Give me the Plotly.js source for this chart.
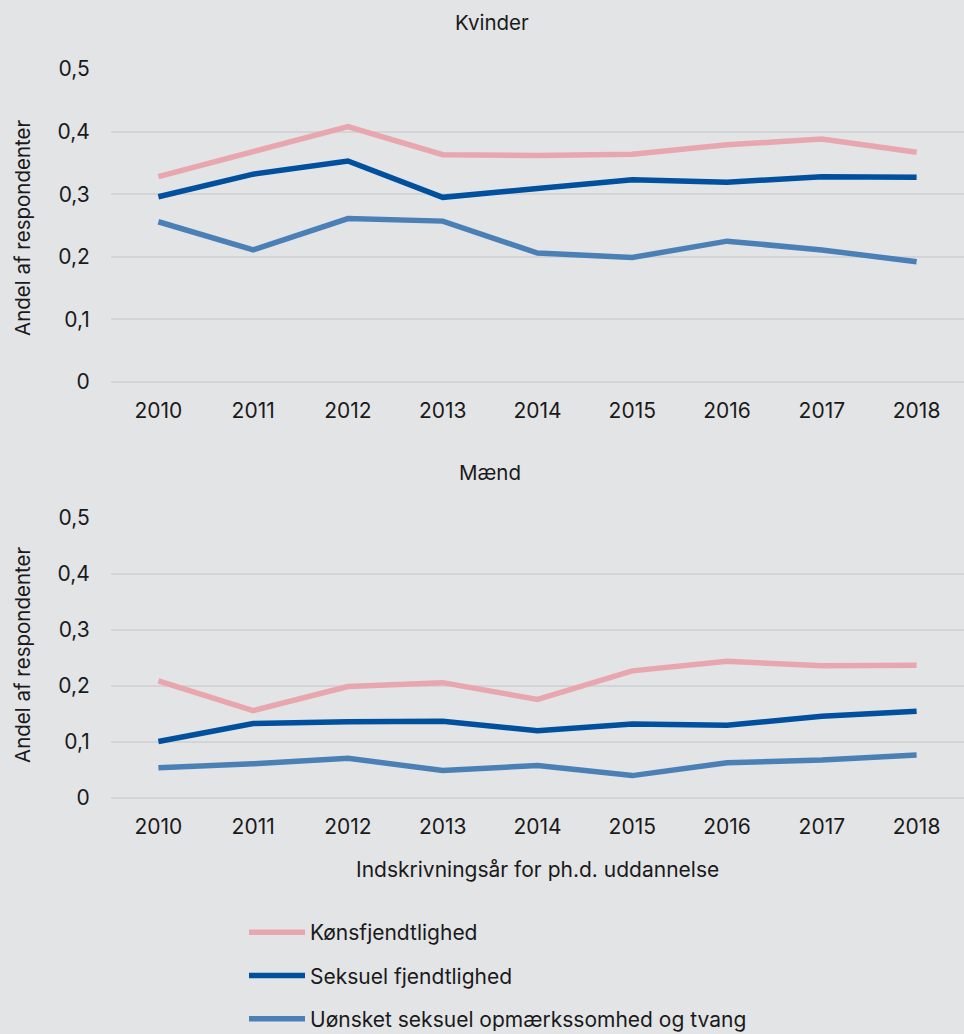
<!DOCTYPE html>
<html>
<head>
<meta charset="utf-8">
<script src="https://cdn.plot.ly/plotly-3.0.1.min.js"></script>
<style>
html,body{margin:0;padding:0;background:#e3e4e6;}
#chart{width:964px;height:1034px;}
</style>
</head>
<body>
<div id="chart"></div>
<script>
const years = ['2010','2011','2012','2013','2014','2015','2016','2017','2018'];
const seriesNames = ['Kønsfjendtlighed','Seksuel fjendtlighed','Uønsket seksuel opmærkssomhed og tvang'];
const kvinderKons = [0.328,0.368,0.408,0.363,0.362,0.364,0.379,0.388,0.367];
const kvinderSeks = [0.296,0.332,0.353,0.295,0.309,0.323,0.319,0.328,0.327];
const kvinderUon  = [0.256,0.211,0.261,0.257,0.206,0.199,0.225,0.211,0.192];
const maendKons = [0.209,0.156,0.199,0.206,0.176,0.227,0.244,0.236,0.237];
const maendSeks = [0.101,0.133,0.136,0.137,0.120,0.132,0.130,0.146,0.155];
const maendUon  = [0.054,0.061,0.071,0.049,0.058,0.040,0.063,0.068,0.077];
const yTickVals = [0,0.1,0.2,0.3,0.4,0.5];
const yTickText = ['0','0,1','0,2','0,3','0,4','0,5'];

const colors = ['#e8a7ae','#00509d','#4a80b6'];
const F = 'Inter, "Noto Sans", sans-serif';
const TC = '#1a1a1a';

function tr(y, i, xa, ya, show){
  return {x: years, y: y, type:'scatter', mode:'lines', name: seriesNames[i],
    xaxis: xa, yaxis: ya, showlegend: show, legendgroup: 'g'+i,
    line:{color: colors[i], width:5.5}, hoverinfo:'skip'};
}
const data = [
  tr(kvinderKons,0,'x','y',true), tr(kvinderSeks,1,'x','y',true), tr(kvinderUon,2,'x','y',true),
  tr(maendKons,0,'x2','y2',false), tr(maendSeks,1,'x2','y2',false), tr(maendUon,2,'x2','y2',false)
];
const H = 1034, W0 = 111, PW = 853;
function py(p){return 1 - p/H;}
function px(p){return (p - W0)/PW;}
const xax = {type:'category', range:[-0.5,8.5], showgrid:false, zeroline:false, showline:false,
  ticks:'outside', ticklen:10, tickcolor:'rgba(0,0,0,0)', tickfont:{family:F,size:21,color:TC}, fixedrange:true};
const yax = {range:[0,0.5], tickvals:yTickVals, ticktext:yTickText, showgrid:true, gridcolor:'#d3d4d6', gridwidth:2,
  zeroline:true, zerolinecolor:'#d3d4d6', zerolinewidth:2, showline:false,
  ticks:'outside', ticklen:16, tickcolor:'rgba(0,0,0,0)', tickfont:{family:F,size:21,color:TC}, fixedrange:true};
function ann(text, x, y, angle, size){
  return {text:text, xref:'paper', yref:'paper', x:px(x), y:py(y), xanchor:'center', yanchor:'middle',
    showarrow:false, textangle:angle||0, font:{family:F,size:size,color:TC}};
}
const layout = {
  width:964, height:1034,
  paper_bgcolor:'#e3e4e6', plot_bgcolor:'#e3e4e6',
  margin:{l:W0, r:0, t:0, b:0, autoexpand:false},
  font:{family:F, size:21, color:TC},
  xaxis: Object.assign({}, xax, {domain:[0,1], anchor:'y'}),
  yaxis: Object.assign({}, yax, {domain:[py(382), py(69)], anchor:'x'}),
  xaxis2: Object.assign({}, xax, {domain:[0,1], anchor:'y2'}),
  yaxis2: Object.assign({}, yax, {domain:[py(798), py(518)], anchor:'x2'}),
  showlegend:true,
  legend:{x:px(244), y:py(912), xanchor:'left', yanchor:'top', orientation:'v',
    bgcolor:'rgba(0,0,0,0)', font:{family:F,size:21,color:TC}, tracegroupgap:13, itemwidth:56},
  annotations:[
    ann('Kvinder', 492, 22, 0, 20.5),
    ann('Mænd', 490, 472, 0, 20.5),
    ann('Indskrivningsår for ph.d. uddannelse', 537, 869, 0, 21),
    ann('Andel af respondenter', 22, 228, -90, 20.5),
    ann('Andel af respondenter', 22, 655, -90, 20.5)
  ]
};
Plotly.newPlot('chart', data, layout, {displayModeBar:false, staticPlot:true});
</script>
</body>
</html>
